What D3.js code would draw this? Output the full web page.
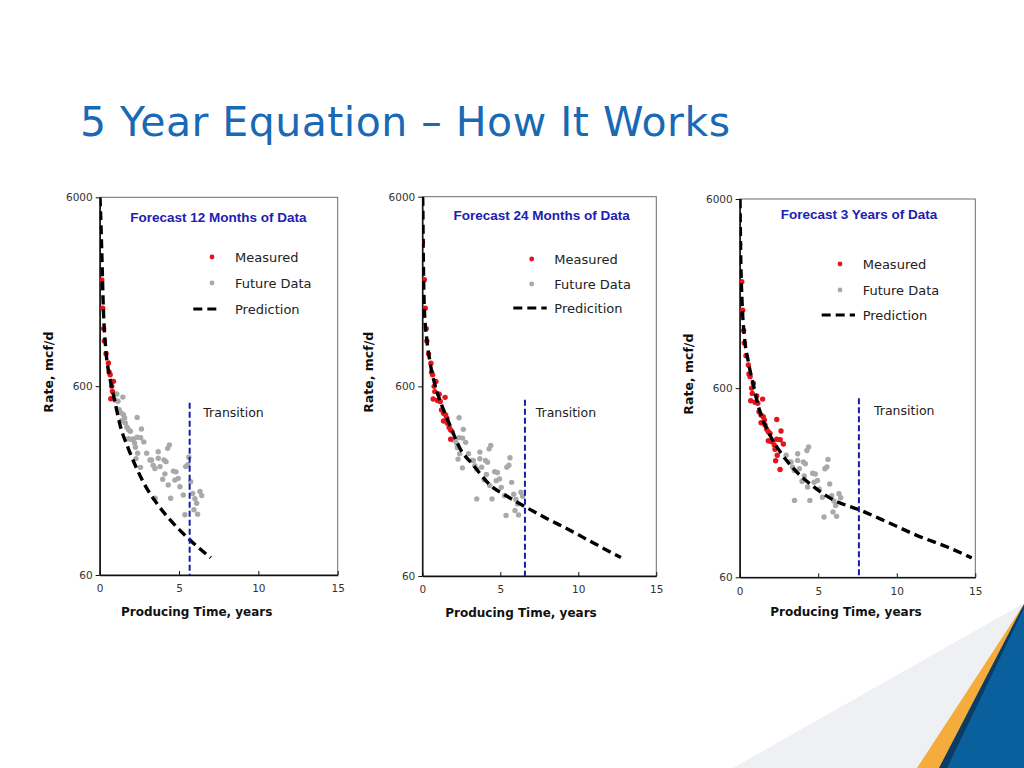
<!DOCTYPE html>
<html>
<head>
<meta charset="utf-8">
<script src="https://cdn.jsdelivr.net/npm/d3@7"></script>
<style>
  body { margin: 0; background: #fff; }
  svg { display: block; }
</style>
</head>
<body>
<script>
// ---- values ----
const rateTicks = [60, 600, 6000];
const timeTicks = [0, 5, 10, 15];

// one well, same points in all three panels (years, mcf/d)
const wellTime = [0.00, 0.13, 0.19, 0.25, 0.29, 0.40, 0.55, 0.59, 0.66, 0.70, 0.76, 0.80, 0.87,
  0.97, 1.08, 1.15, 1.23, 1.36, 1.36, 1.46, 1.50, 1.57, 1.61, 1.72, 1.82, 1.82, 1.93, 1.99,
  2.12, 2.20, 2.25, 2.29, 2.36, 2.36, 2.39, 2.57, 2.58, 2.63, 2.78,
  2.96, 3.17, 3.27, 3.37, 3.48, 3.49, 3.69, 3.69, 3.80, 3.97, 4.05, 4.11, 4.18, 4.28, 4.32,
  4.39, 4.47, 4.64, 4.74, 4.81, 4.95, 5.06, 5.27, 5.37, 5.42, 5.55, 5.62, 5.73, 5.86, 5.94,
  6.00, 6.11, 6.17, 6.32, 6.43];
const wellRate = [3450, 2190, 1550, 1210, 1040, 890, 795, 713, 690, 515, 600, 563, 636,
  505, 545, 499, 450, 433, 394, 525, 424, 407, 383, 364, 353, 316, 346, 313,
  315, 300, 285, 248, 410, 322, 265, 223, 320, 356, 304,
  265, 244, 244, 229, 220, 153, 270, 249, 225, 193, 244, 206, 239, 281, 180,
  293, 153, 213, 191, 211, 195, 176, 159, 125, 225, 230, 252, 187, 162, 133,
  152, 144, 126, 166, 158];

const panelTitles = ["Forecast 12 Months of Data", "Forecast 24 Months of Data", "Forecast 3 Years of Data"];
const measuredUntil = [0.9, 1.87, 2.85];   // years of data used for each forecast
const legendLabels = [
  ["Measured", "Future Data", "Prediction"],
  ["Measured", "Future Data", "Predicition"],
  ["Measured", "Future Data", "Prediction"]
];

const pred1Time = [0.02, 0.08, 0.13, 0.23, 0.40, 0.65, 0.96, 1.28, 1.80, 2.33, 2.96, 3.59, 4.54, 5.69, 7.0];
const pred1Rate = [6000, 4280, 3090, 1550, 912, 660, 496, 374, 281, 220, 173, 144, 115, 92, 74];
const pred2Time = [0.02, 0.03, 0.06, 0.13, 0.28, 0.49, 0.81, 1.24, 1.77, 2.41, 3.26, 4.32, 5.49, 6.60, 7.94, 9.43, 10.92, 12.73];
const pred2Rate = [6000, 5650, 3080, 1550, 1077, 810, 610, 479, 375, 283, 231, 182, 157, 139, 121, 105, 90, 75];
const pred3Time = [0.02, 0.06, 0.15, 0.29, 0.55, 0.87, 1.29, 1.82, 2.57, 3.52, 4.69, 5.96, 7.66, 9.36, 11.27, 13.18, 14.77];
const pred3Rate = [6000, 3160, 1720, 1146, 828, 624, 450, 353, 277, 221, 181, 154, 136, 118, 100, 87, 76];

const transitionTime = [5.67, 6.58, 7.59];
const transitionTop = [490, 510, 530];

// ---- layout ----
const W = 1024, H = 768;
const gothic = "'DejaVu Sans', sans-serif";
const arial = "'Liberation Sans', Arial, sans-serif";
const layout = [
  {left: 99.7, top: 197.3, right: 337.7, bottom: 575, titleX: 218.3, titleY: 217,
   legDot: 212, legText: 235, legRows: [257, 283, 309], dash: [193.3, 219],
   transX: 203.3, transY: 413, xLabX: 196.7, xLabY: 612, yLabX: 48.3},
  {left: 422.3, top: 196.7, right: 656.3, bottom: 576, titleX: 541.7, titleY: 215,
   legDot: 531.7, legText: 554.3, legRows: [259, 284, 308], dash: [513.3, 546.7],
   transX: 535.7, transY: 413, xLabX: 521, xLabY: 613, yLabX: 368.3},
  {left: 739.7, top: 199, right: 975.3, bottom: 577.3, titleX: 859, titleY: 214,
   legDot: 840, legText: 862.7, legRows: [264, 290, 315], dash: [821.7, 855],
   transX: 874, transY: 411, xLabX: 846, xLabY: 612, yLabX: 688.3}
];
const predictions = [
  d3.zip(pred1Time, pred1Rate), d3.zip(pred2Time, pred2Rate), d3.zip(pred3Time, pred3Rate)
];
const well = d3.zip(wellTime, wellRate);

const svg = d3.select("body").append("svg")
  .attr("width", W).attr("height", H);

svg.append("rect").attr("width", W).attr("height", H).attr("fill", "#fff");

// corner decoration
const deco = svg.append("g");
deco.append("polygon").attr("points", "733,768 1024,603 1024,768").attr("fill", "#eff0f3");
deco.append("polygon").attr("points", "917,768 1022,607 1024,607 1024,768").attr("fill", "#f4ad3c");
deco.append("polygon").attr("points", "939,768 1024,604 1024,768").attr("fill", "#0b3c63");
deco.append("polygon").attr("points", "947,768 1024,608 1024,768").attr("fill", "#0a5f9d");

// slide title
svg.append("text")
  .attr("x", 80).attr("y", 136)
  .attr("font-family", gothic).attr("font-size", 41)
  .attr("fill", "#1a69b4")
  .attr("textLength", 650).attr("lengthAdjust", "spacing")
  .text("5 Year Equation \u2013 How It Works");

const dashPattern = "9,5";

layout.forEach((p, i) => {
  const g = svg.append("g");
  const x = d3.scaleLinear().domain([0, 15]).range([p.left, p.right]);
  const y = d3.scaleLog().domain([60, 6000]).range([p.bottom, p.top]);

  const clipId = "clip" + i;
  g.append("clipPath").attr("id", clipId)
    .append("rect").attr("x", p.left).attr("y", p.top)
    .attr("width", p.right - p.left).attr("height", p.bottom - p.top);

  // frame
  g.append("rect")
    .attr("x", p.left).attr("y", p.top)
    .attr("width", p.right - p.left).attr("height", p.bottom - p.top)
    .attr("fill", "none").attr("stroke", "#6b6b6b").attr("stroke-width", 1);

  // axes
  const yAxis = g.append("g")
    .attr("transform", `translate(${p.left},0)`)
    .call(d3.axisLeft(y).tickValues(rateTicks).tickFormat(d3.format("d")).tickSize(4).tickPadding(3).tickSizeOuter(0));
  const xAxis = g.append("g")
    .attr("transform", `translate(0,${p.bottom})`)
    .call(d3.axisBottom(x).tickValues(timeTicks).tickSize(-4).tickPadding(10).tickSizeOuter(0));
  [xAxis, yAxis].forEach(a => {
    a.select(".domain").attr("stroke", "#111").attr("stroke-width", 1.5);
    a.selectAll(".tick line").attr("stroke", "#111");
    a.selectAll(".tick text").attr("font-family", gothic).attr("font-size", 10.5).attr("fill", "#333");
  });

  const plot = g.append("g").attr("clip-path", `url(#${clipId})`);

  // future data then measured
  const cutoff = measuredUntil[i];
  plot.selectAll("circle.future")
    .data(well.filter(d => d[0] > cutoff))
    .join("circle").attr("class", "future")
    .attr("cx", d => x(d[0])).attr("cy", d => y(d[1]))
    .attr("r", 2.7).attr("fill", "#a9a9a9");
  plot.selectAll("circle.measured")
    .data(well.filter(d => d[0] <= cutoff))
    .join("circle").attr("class", "measured")
    .attr("cx", d => x(d[0])).attr("cy", d => y(d[1]))
    .attr("r", 2.7).attr("fill", "#e3141c");

  // prediction
  plot.append("path")
    .datum(predictions[i])
    .attr("d", d3.line().x(d => x(d[0])).y(d => y(d[1])).curve(d3.curveMonotoneX))
    .attr("fill", "none").attr("stroke", "#000")
    .attr("stroke-width", 3.4).attr("stroke-dasharray", dashPattern);

  // transition marker
  g.append("line")
    .attr("x1", x(transitionTime[i])).attr("x2", x(transitionTime[i]))
    .attr("y1", y(transitionTop[i])).attr("y2", p.bottom)
    .attr("stroke", "#1b1ba8").attr("stroke-width", 2).attr("stroke-dasharray", "6,3");
  g.append("text")
    .attr("x", p.transX).attr("y", p.transY).attr("dy", "0.35em")
    .attr("font-family", gothic).attr("font-size", 12.5).attr("fill", "#222")
    .text("Transition");

  // panel title
  g.append("text")
    .attr("x", p.titleX).attr("y", p.titleY).attr("dy", "0.35em")
    .attr("text-anchor", "middle")
    .attr("font-family", arial).attr("font-weight", "bold").attr("font-size", 13.5)
    .attr("fill", "#2020b2")
    .text(panelTitles[i]);

  // legend
  g.append("circle").attr("cx", p.legDot).attr("cy", p.legRows[0]).attr("r", 2.4).attr("fill", "#e3141c");
  g.append("circle").attr("cx", p.legDot).attr("cy", p.legRows[1]).attr("r", 2.4).attr("fill", "#a9a9a9");
  g.append("line")
    .attr("x1", p.dash[0]).attr("x2", p.dash[1])
    .attr("y1", p.legRows[2]).attr("y2", p.legRows[2])
    .attr("stroke", "#000").attr("stroke-width", 3.2).attr("stroke-dasharray", dashPattern);
  legendLabels[i].forEach((lab, k) => {
    g.append("text")
      .attr("x", p.legText).attr("y", p.legRows[k]).attr("dy", "0.35em")
      .attr("font-family", gothic).attr("font-size", 13).attr("fill", "#222")
      .text(lab);
  });

  // axis titles
  g.append("text")
    .attr("x", p.xLabX).attr("y", p.xLabY).attr("dy", "0.35em")
    .attr("text-anchor", "middle")
    .attr("font-family", gothic).attr("font-weight", "bold").attr("font-size", 12)
    .attr("fill", "#111")
    .text("Producing Time, years");
  g.append("text")
    .attr("transform", `translate(${p.yLabX},${(p.top + p.bottom) / 2 - 14}) rotate(-90)`)
    .attr("dy", "0.35em")
    .attr("text-anchor", "middle")
    .attr("font-family", gothic).attr("font-weight", "bold").attr("font-size", 12.5)
    .attr("fill", "#111")
    .text("Rate, mcf/d");
});
</script>
</body>
</html>
